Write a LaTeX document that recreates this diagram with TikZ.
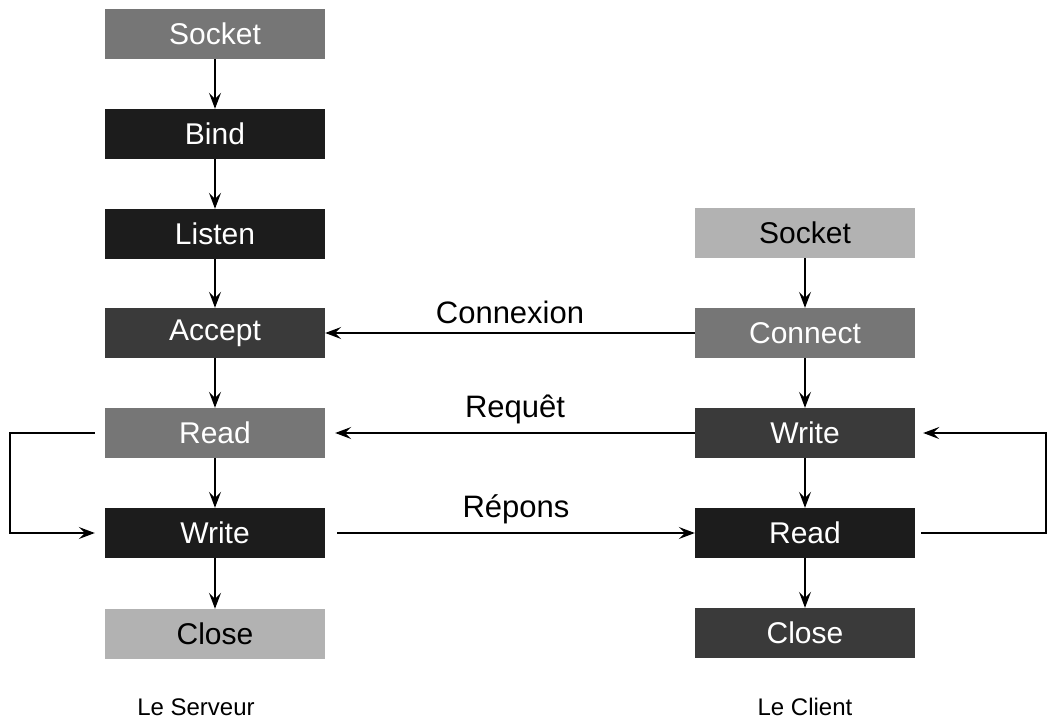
\documentclass[tikz,border=0pt]{standalone}
\usepackage{fontspec}
\setmainfont{Liberation Sans}
\usetikzlibrary{arrows.meta,patterns}
\definecolor{boxpale}{RGB}{178,178,178}
\definecolor{boxmid}{RGB}{118,118,118}
\definecolor{boxdark}{RGB}{58,58,58}
\definecolor{boxblack}{RGB}{28,28,28}

\begin{document}
\begin{tikzpicture}[x=1pt,y=-1pt,
  op/.style={minimum width=220pt,minimum height=50pt,inner sep=0pt,
    font=\fontsize{30}{32}\selectfont,text=white},
  flow/.style={-{Stealth[length=16pt,width=12pt,inset=6pt]},line width=1.5pt},
  lbl/.style={font=\fontsize{31}{33}\selectfont}]
  \useasboundingbox (0,0) rectangle (1048,725);
  % server side
  \node[op,fill=boxmid] (sSocket) at (215,34) {Socket};
  \node[op,fill=boxblack] (sBind) at (215,134) {Bind};
  \node[op,fill=boxblack] (sListen) at (215,234) {Listen};
  \node[op,fill=boxdark] (sAccept) at (215,333) {Accept};
  \node[op,fill=boxmid] (sRead) at (215,433) {Read};
  \node[op,fill=boxblack] (sWrite) at (215,533) {Write};
  \node[op,fill=boxpale,text=black] (sClose) at (215,634) {Close};
  % client side
  \node[op,fill=boxpale,text=black] (cSocket) at (805,233) {Socket};
  \node[op,fill=boxmid] (cConnect) at (805,333) {Connect};
  \node[op,fill=boxdark] (cWrite) at (805,433) {Write};
  \node[op,fill=boxblack] (cRead) at (805,533) {Read};
  \node[op,fill=boxdark] (cClose) at (805,633) {Close};
  \node[lbl,font=\fontsize{24}{26}\selectfont] (srvName) at (196,707) {Le Serveur};
  \node[lbl,font=\fontsize{24}{26}\selectfont] (cliName) at (805,707) {Le Client};
  \coordinate (lpL) at (10,0);
  \coordinate (lpR) at (1046,0);

  \draw[flow] (sSocket) -- (sBind);
  \draw[flow] (sBind) -- (sListen);
  \draw[flow] (sListen) -- (sAccept);
  \draw[flow] (sAccept) -- (sRead);
  \draw[flow] (sRead) -- (sWrite);
  \draw[flow] (sWrite) -- (sClose);
  \draw[flow] (cSocket) -- (cConnect);
  \draw[flow] (cConnect) -- (cWrite);
  \draw[flow] (cWrite) -- (cRead);
  \draw[flow] (cRead) -- (cClose);

  \draw[flow] (cConnect.west) -- (sAccept.east) node[lbl,midway,above=5pt] {Connexion};
  \draw[flow] (cWrite.west) -- ([xshift=10pt]sRead.east) node[lbl,midway,above=5pt] {Requêt};
  \draw[flow] ([xshift=12pt]sWrite.east) -- (cRead.west) node[lbl,midway,above=5pt] {Répons};

  \draw[flow] ([xshift=-10pt]sRead.west) -| (lpL |- sWrite.west) -- ([xshift=-10pt]sWrite.west);
  \draw[flow] ([xshift=6pt]cRead.east) -| (lpR |- cWrite.east) -- ([xshift=8pt]cWrite.east);
\end{tikzpicture}
\end{document}
